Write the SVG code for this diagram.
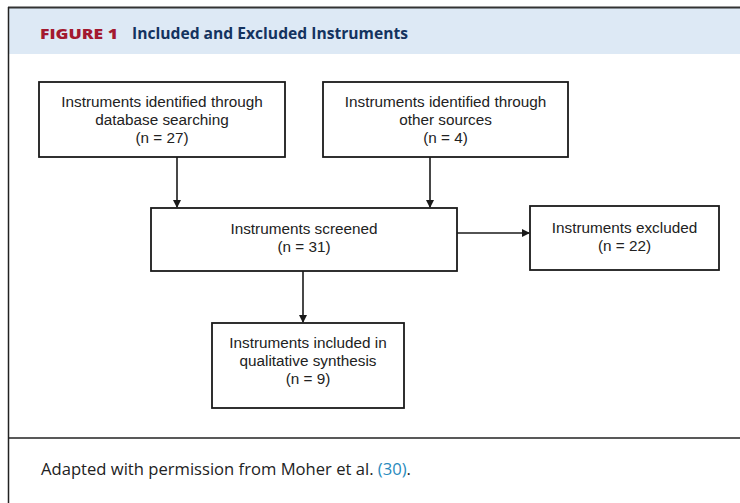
<svg xmlns="http://www.w3.org/2000/svg" width="740" height="503" viewBox="0 0 740 503">
<style>
.box{fill:#fff;stroke:#1a1a1a;stroke-width:1.8}
.t{font-family:"Liberation Sans",Arial,sans-serif;font-size:15.3px;fill:#222;text-anchor:middle}
.c{stroke:#1a1a1a;stroke-width:1.6;fill:none}
</style>
<defs>
<marker id="ah" markerWidth="8" markerHeight="8" refX="7" refY="4" orient="auto" markerUnits="userSpaceOnUse">
<path d="M0,0 L8,4 L0,8 Z" fill="#1a1a1a"/>
</marker>
</defs>
<rect x="0" y="0" width="740" height="503" fill="#fff"/>
<rect x="8.5" y="8" width="740" height="46" fill="#dde9f5"/>
<line x1="8" y1="7.5" x2="740" y2="7.5" stroke="#333" stroke-width="2"/>
<line x1="8.5" y1="7" x2="8.5" y2="503" stroke="#222" stroke-width="1.5"/>
<line x1="8" y1="438" x2="740" y2="438" stroke="#222" stroke-width="1.5"/>
<text x="40" y="38.5" font-family="'Open Sans','DejaVu Sans',sans-serif" font-weight="800" font-size="14" fill="#a3192f" textLength="78" lengthAdjust="spacingAndGlyphs">FIGURE 1</text>
<text x="132" y="38.5" font-family="'Open Sans','DejaVu Sans',sans-serif" font-weight="bold" font-size="15.5" fill="#14335f" textLength="276" lengthAdjust="spacingAndGlyphs">Included and Excluded Instruments</text>
<text x="41" y="475" font-family="'Open Sans','DejaVu Sans',sans-serif" font-size="15.5" fill="#222" textLength="370" lengthAdjust="spacingAndGlyphs">Adapted with permission from Moher et al. <tspan fill="#2a8bbd">(30)</tspan>.</text>
<g id="connectors">
<line class="c" x1="177" y1="157" x2="177" y2="207" marker-end="url(#ah)"/>
<line class="c" x1="430" y1="157" x2="430" y2="207" marker-end="url(#ah)"/>
<line class="c" x1="457" y1="233" x2="529" y2="233" marker-end="url(#ah)"/>
<line class="c" x1="303" y1="271" x2="303" y2="322" marker-end="url(#ah)"/>
</g>
<g id="n1">
<rect class="box" x="39" y="82" width="246" height="75"/>
<text class="t" x="162" y="107">Instruments identified through</text>
<text class="t" x="162" y="125">database searching</text>
<text class="t" x="162" y="143">(n = 27)</text>
</g>
<g id="n2">
<rect class="box" x="323" y="82" width="245" height="75"/>
<text class="t" x="445.5" y="107">Instruments identified through</text>
<text class="t" x="445.5" y="125">other sources</text>
<text class="t" x="445.5" y="143">(n = 4)</text>
</g>
<g id="n3">
<rect class="box" x="151" y="208" width="306" height="63"/>
<text class="t" x="304" y="234">Instruments screened</text>
<text class="t" x="304" y="252">(n = 31)</text>
</g>
<g id="n4">
<rect class="box" x="530" y="206" width="189" height="64"/>
<text class="t" x="624.5" y="233">Instruments excluded</text>
<text class="t" x="624.5" y="251">(n = 22)</text>
</g>
<g id="n5">
<rect class="box" x="212" y="323" width="192" height="85"/>
<text class="t" x="308" y="348">Instruments included in</text>
<text class="t" x="308" y="366">qualitative synthesis</text>
<text class="t" x="308" y="384">(n = 9)</text>
</g>
</svg>
